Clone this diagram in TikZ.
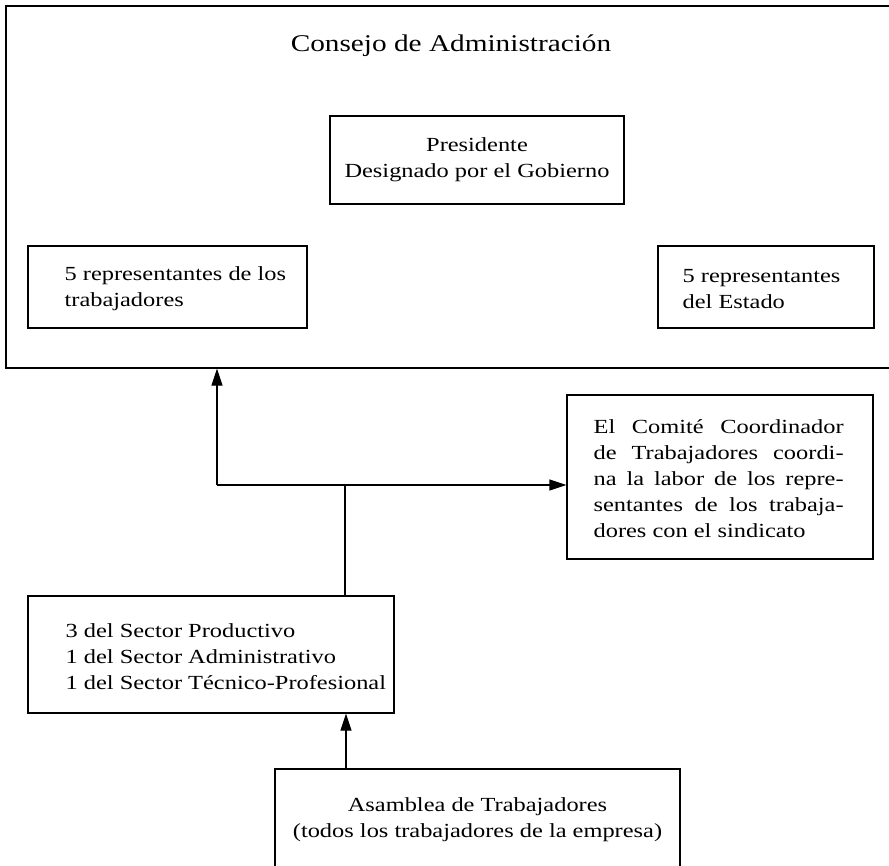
\documentclass[tikz,border=0pt]{standalone}
\usepackage{fontspec}
\setmainfont[FakeStretch=1.22]{Liberation Serif}
\usetikzlibrary{arrows.meta,calc}
\begin{document}
\begin{tikzpicture}[x=1pt,y=-1pt,
  box/.style={draw, line width=1.2pt, inner sep=0pt},
  txt/.style={font=\fontsize{20}{26}\selectfont, inner sep=0pt, align=left},
  titletxt/.style={font=\fontsize{24}{28}\selectfont, inner sep=0pt},
  conn/.style={line width=1.2pt},
  arr/.style={conn, -{Triangle[length=17pt,width=11pt]}}]
\useasboundingbox (0,0) rectangle (889,865);
\clip (0,0) rectangle (889,865);
% outer board
\node[box, minimum width=889pt, minimum height=362pt] (outer) at (450.5,187) {};
\node[titletxt, anchor=base] (title) at (451,51) {Consejo de Administración};
% president
\node[box, txt, align=center, minimum width=294pt, minimum height=88pt] (pres) at (477,160)
  {Presidente\\Designado por el Gobierno};
% workers reps
\node[box, minimum width=279pt, minimum height=82pt] (lw) at (167.5,287) {};
\node[txt, anchor=west] (lwt) at ([xshift=37pt,yshift=-2pt]lw.west)
  {5 representantes de los\\trabajadores};
% state reps
\node[box, minimum width=216pt, minimum height=82pt] (rw) at (766,287) {};
\node[txt, anchor=west] (rwt) at ([xshift=25pt,yshift=-2pt]rw.west)
  {5 representantes\\del Estado};
% committee
\node[box, minimum width=306pt, minimum height=164pt] (com) at (720,477) {};
\node[txt, anchor=west] (comt) at ([xshift=27pt,yshift=-2pt]com.west)
  {\makebox[250pt][s]{El Comité Coordinador}\\
   \makebox[250pt][s]{de Trabajadores coordi-}\\
   \makebox[250pt][s]{na la labor de los repre-}\\
   \makebox[250pt][s]{sentantes de los trabaja-}\\
   dores con el sindicato};
% sectors
\node[box, minimum width=366pt, minimum height=117pt] (sec) at (211,654.5) {};
\node[txt, anchor=west] (sect) at ([xshift=38pt,yshift=-2pt]sec.west)
  {3 del Sector Productivo\\1 del Sector Administrativo\\1 del Sector Técnico-Profesional};
% assembly
\node[box, minimum width=405pt, minimum height=106pt] (asm) at (477.5,822) {};
\node[txt, align=center] (asmt) at (477.5,820)
  {Asamblea de Trabajadores\\(todos los trabajadores de la empresa)};
% connectors
\coordinate (jl) at (217,485);
\coordinate (jm) at (345,485);
\coordinate (am) at (346,740);
\draw[arr] (jl) -- (jl |- outer.south);
\draw[arr] (jl) -- (jl -| com.west);
\draw[conn] (sec.north -| jm) -- (jm);
\draw[arr] (asm.north -| am) -- (sec.south -| am);
\end{tikzpicture}
\end{document}
